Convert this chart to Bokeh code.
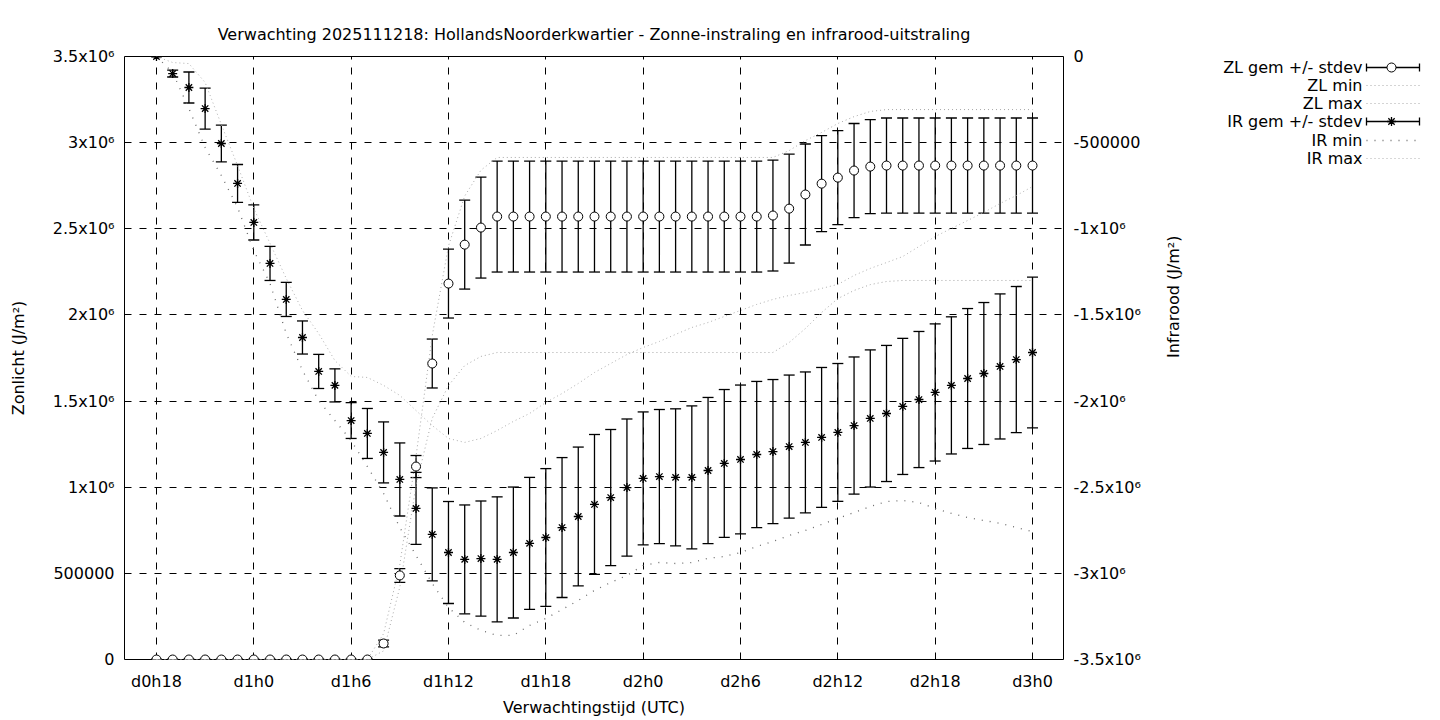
import math
from bokeh.plotting import figure
from bokeh.models import Range1d, LinearAxis, FixedTicker, ColumnDataSource, Whisker, TeeHead, Title
from bokeh.layouts import row
from bokeh.embed import file_html
from bokeh.resources import INLINE
from bokeh.core.properties import value

# ---------------- data ----------------
hours = list(range(18, 73))

x_ticks = [18, 24, 30, 36, 42, 48, 54, 60, 66, 72]
x_tick_labels = ["d0h18", "d1h0", "d1h6", "d1h12", "d1h18", "d2h0", "d2h6", "d2h12", "d2h18", "d3h0"]

zl_ticks = [0, 500000, 1000000, 1500000, 2000000, 2500000, 3000000, 3500000]
zl_tick_labels = ["0", "500000", "1x10⁶", "1.5x10⁶", "2x10⁶", "2.5x10⁶", "3x10⁶", "3.5x10⁶"]

ir_ticks = [-3500000, -3000000, -2500000, -2000000, -1500000, -1000000, -500000, 0]
ir_tick_labels = ["-3.5x10⁶", "-3x10⁶", "-2.5x10⁶", "-2x10⁶", "-1.5x10⁶", "-1x10⁶", "-500000", "0"]

# Zonlicht (ZL)
zl_mean = ([0] * 14 +
           [93000, 488000, 1120000, 1718000, 2182000, 2408000, 2507000] +
           [2571000] * 17 +
           [2577000, 2617000, 2699000, 2762000, 2797000, 2838000, 2861000] +
           [2867000] * 10)
zl_stdev = ([0] * 14 +
            [20000, 40000, 64000, 142000, 200000, 258000, 293000] +
            [322000] * 17 +
            [322000, 316000, 293000, 279000, 273000, 273000, 273000] +
            [276000] * 10)
zl_min = ([0] * 14 +
          [50000, 420000, 1010000, 1400000, 1590000, 1706000, 1759000] +
          [1782000] * 18 +
          [1840000, 1921000, 2014000, 2095000, 2142000, 2176000, 2194000] +
          [2200000] * 9)
zl_max = ([0] * 14 +
          [150000, 550000, 1180000, 1880000, 2400000, 2690000, 2840000] +
          [2914000] * 18 +
          [2954000, 3012000, 3059000, 3111000, 3151000, 3181000] +
          [3192000] * 10)

# Infrarood (IR)
ir_mean = [0, -99000, -180000, -302000, -505000, -737000, -963000, -1201000, -1410000,
           -1631000, -1828000, -1909000, -2113000, -2188000, -2298000, -2455000, -2623000,
           -2774000, -2879000, -2919000, -2914000, -2919000, -2879000, -2826000, -2792000,
           -2734000, -2670000, -2600000, -2560000, -2502000, -2449000, -2438000, -2443000,
           -2443000, -2403000, -2362000, -2339000, -2310000, -2293000, -2264000, -2240000,
           -2211000, -2182000, -2142000, -2101000, -2072000, -2031000, -1991000, -1950000,
           -1909000, -1869000, -1840000, -1799000, -1759000, -1718000]
ir_stdev = [0, 20000, 90000, 119000, 107000, 110000, 102000, 99000, 99000, 96000, 99000,
            96000, 104000, 145000, 177000, 212000, 209000, 270000, 296000, 316000, 334000,
            363000, 380000, 383000, 400000, 406000, 403000, 406000, 395000, 398000, 386000,
            389000, 398000, 415000, 424000, 429000, 432000, 424000, 418000, 415000, 409000,
            406000, 400000, 398000, 398000, 395000, 395000, 395000, 398000, 398000, 406000,
            412000, 421000, 424000, 438000]
ir_min = [0, -93000, -302000, -528000, -691000, -876000, -1126000, -1317000, -1608000,
          -1822000, -1997000, -2113000, -2229000, -2380000, -2536000, -2734000, -2896000,
          -3059000, -3198000, -3285000, -3331000, -3360000, -3360000, -3302000, -3262000,
          -3210000, -3157000, -3099000, -3053000, -3012000, -2954000, -2937000, -2943000,
          -2937000, -2913000, -2902000, -2879000, -2844000, -2815000, -2780000, -2751000,
          -2716000, -2681000, -2647000, -2612000, -2583000, -2577000, -2589000, -2623000,
          -2652000, -2676000, -2693000, -2710000, -2734000, -2757000]
ir_max = [0, -35000, -41000, -151000, -395000, -633000, -882000, -1085000, -1288000,
          -1474000, -1608000, -1765000, -1857000, -1863000, -1909000, -1967000, -2055000,
          -2142000, -2217000, -2240000, -2217000, -2171000, -2118000, -2072000, -2008000,
          -1956000, -1898000, -1834000, -1782000, -1730000, -1689000, -1654000, -1613000,
          -1573000, -1544000, -1509000, -1474000, -1439000, -1410000, -1387000, -1370000,
          -1346000, -1323000, -1271000, -1230000, -1196000, -1161000, -1103000, -1045000,
          -998000, -952000, -905000, -853000, -807000, -755000]

legend_labels = ["ZL gem +/- stdev", "ZL min", "ZL max", "IR gem +/- stdev", "IR min", "IR max"]

title_text = "Verwachting 2025111218: HollandsNoorderkwartier - Zonne-instraling en infrarood-uitstraling"

# ---------------- styling ----------------
FONT = "DejaVu Sans"
FS = "16px"
ZL_LINE = "#a8a8a8"
IR_MIN_LINE = "#6a6a6a"
IR_MAX_LINE = "#b0b0b0"

H = 719
W_MAIN = 1203
W_LEG = 235
FRAME_TOP, FRAME_BOTTOM = 56, 659   # frame edges (page px), shared by both panels

p = figure(width=W_MAIN, height=H, x_range=Range1d(16.03, 73.91), y_range=Range1d(0, 3500000),
           output_backend="svg", toolbar_location=None,
           min_border_left=124, min_border_right=140, min_border_top=FRAME_TOP,
           min_border_bottom=H - FRAME_BOTTOM)
p.extra_y_ranges = {"ir": Range1d(-3500000, 0)}

p.title = Title(text=title_text, align="center", text_font=FONT, text_font_size=FS,
                text_font_style="normal", text_color="black", standoff=25)

p.outline_line_color = "black"
p.outline_line_width = 1
p.outline_line_alpha = 1
p.background_fill_color = "white"
p.border_fill_color = "white"

# axes
p.xaxis.ticker = FixedTicker(ticks=x_ticks)
p.xaxis.major_label_overrides = {t: l for t, l in zip(x_ticks, x_tick_labels)}
p.xaxis.axis_label = "Verwachtingstijd (UTC)"
p.yaxis.ticker = FixedTicker(ticks=zl_ticks)
p.yaxis.major_label_overrides = {t: l for t, l in zip(zl_ticks, zl_tick_labels)}
p.yaxis.axis_label = "Zonlicht (J/m²)"

ax_r = LinearAxis(y_range_name="ir", ticker=FixedTicker(ticks=ir_ticks),
                  major_label_overrides={t: l for t, l in zip(ir_ticks, ir_tick_labels)},
                  axis_label="Infrarood (J/m²)")
p.add_layout(ax_r, "right")

for ax in [p.xaxis[0], p.yaxis[0], ax_r]:
    ax.axis_line_color = None
    ax.major_tick_line_color = None
    ax.minor_tick_line_color = None
    ax.major_tick_in = 0
    ax.major_tick_out = 0
    ax.major_label_text_font = FONT
    ax.major_label_text_font_size = FS
    ax.major_label_text_color = "black"
    ax.axis_label_text_font = FONT
    ax.axis_label_text_font_size = FS
    ax.axis_label_text_font_style = "normal"
    ax.axis_label_text_color = "black"

p.xaxis.major_label_standoff = 12
p.xaxis.axis_label_standoff = 4
p.yaxis.major_label_standoff = 10
p.yaxis.axis_label_standoff = 22
ax_r.major_label_standoff = 10
ax_r.axis_label_standoff = 30
try:
    ax_r.axis_label_orientation = math.pi / 2
except Exception:
    pass

# grid
p.xgrid.ticker = FixedTicker(ticks=x_ticks)
p.ygrid.ticker = FixedTicker(ticks=zl_ticks)
for g in [p.xgrid[0], p.ygrid[0]]:
    g.grid_line_color = "black"
    g.grid_line_dash = "7 8"
    g.grid_line_width = 1
    g.grid_line_alpha = 1

# ---------------- glyphs ----------------
src_zl = ColumnDataSource(dict(x=hours, y=zl_mean,
                               lo=[m - s for m, s in zip(zl_mean, zl_stdev)],
                               hi=[m + s for m, s in zip(zl_mean, zl_stdev)]))
src_ir = ColumnDataSource(dict(x=hours, y=ir_mean,
                               lo=[m - s for m, s in zip(ir_mean, ir_stdev)],
                               hi=[m + s for m, s in zip(ir_mean, ir_stdev)]))

p.line(hours, zl_min, line_color=ZL_LINE, line_dash="1 3", line_width=1)
p.line(hours, zl_max, line_color=ZL_LINE, line_dash="1 3", line_width=1)
p.line(hours, ir_min, line_color=IR_MIN_LINE, line_dash="1 7", line_width=1.3, y_range_name="ir")
p.line(hours, ir_max, line_color=IR_MAX_LINE, line_dash="1 3", line_width=1, y_range_name="ir")


def whisker(src, rng=None):
    kw = dict(base="x", lower="lo", upper="hi", source=src, dimension="height",
              line_color="black", line_width=1.3,
              upper_head=TeeHead(size=11, line_color="black", line_width=1.3),
              lower_head=TeeHead(size=11, line_color="black", line_width=1.3))
    if rng:
        kw["y_range_name"] = rng
    return Whisker(**kw)


p.add_layout(whisker(src_zl))
p.add_layout(whisker(src_ir, "ir"))

p.scatter("x", "y", source=src_zl, marker="circle", size=9, fill_color="white",
          line_color="black", line_width=1)
p.scatter("x", "y", source=src_ir, marker="asterisk", size=9, line_color="black",
          line_width=1.3, y_range_name="ir")

# ---------------- legend (separate panel, frame aligned with main frame) ----------------
leg = figure(width=W_LEG, height=H, x_range=Range1d(W_MAIN, W_MAIN + W_LEG),
             y_range=Range1d(FRAME_BOTTOM, FRAME_TOP),
             output_backend="svg", toolbar_location=None, x_axis_type=None, y_axis_type=None,
             min_border_left=0, min_border_right=0, min_border_top=FRAME_TOP,
             min_border_bottom=H - FRAME_BOTTOM)
leg.outline_line_color = None
leg.grid.visible = False

rows_y = [67, 85, 103, 121, 140, 158]
tx = 1362
sx0, sx1, smid = 1366, 1419, 1391
leg.text(x=[tx] * 6, y=rows_y, text=legend_labels, text_align="right", text_baseline="middle",
         text_font=value(FONT), text_font_size=FS, text_color="black")

for i in (0, 3):
    y = rows_y[i]
    leg.segment(x0=[sx0, sx0, sx1], y0=[y, y - 4, y - 4], x1=[sx1, sx0, sx1], y1=[y, y + 4, y + 4],
                line_color="black", line_width=1.3)
leg.scatter([smid], [rows_y[0]], marker="circle", size=9, fill_color="white", line_color="black")
leg.scatter([smid], [rows_y[3]], marker="asterisk", size=9, line_color="black", line_width=1.3)
leg.segment(x0=[sx0], y0=[rows_y[1]], x1=[sx1], y1=[rows_y[1]], line_color=ZL_LINE, line_dash="1 3")
leg.segment(x0=[sx0], y0=[rows_y[2]], x1=[sx1], y1=[rows_y[2]], line_color=ZL_LINE, line_dash="1 3")
leg.segment(x0=[sx0], y0=[rows_y[4]], x1=[sx1], y1=[rows_y[4]], line_color=IR_MIN_LINE,
            line_dash="1 7", line_width=1.3)
leg.segment(x0=[sx0], y0=[rows_y[5]], x1=[sx1], y1=[rows_y[5]], line_color=IR_MAX_LINE, line_dash="1 3")

layout = row(p, leg)
open("out.html", "w").write(file_html(layout, INLINE, title="Verwachting"))
